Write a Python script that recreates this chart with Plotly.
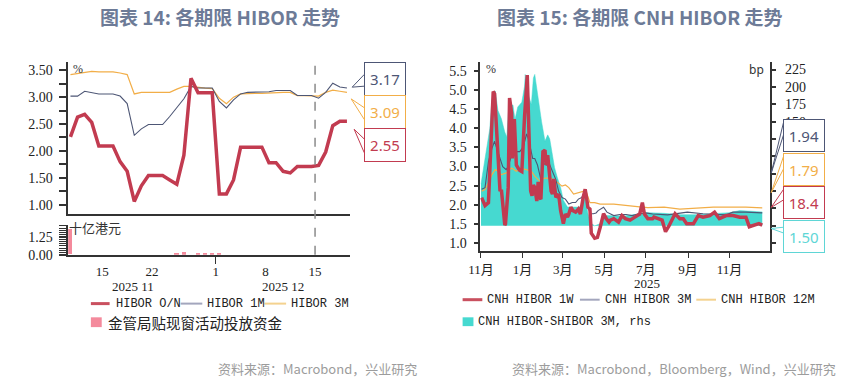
import plotly.graph_objects as go
import pandas as pd

W, H = 858, 388
def px(x): return x / W
def py(y): return 1 - y / H

# ---------------- Left chart data (HIBOR) ----------------
hk_dates = pd.date_range("2025-11-10 12:00", "2025-12-19 12:00", freq="D")
hibor_on = [2.26, 2.63, 2.68, 2.53, 2.09, 2.09, 2.09, 1.80, 1.62, 1.06, 1.35, 1.54, 1.54, 1.54,
            1.46, 1.38, 1.92, 3.35, 3.08, 3.08, 3.08,
            1.20, 1.20, 1.46, 2.07, 2.07, 2.07, 2.07, 1.78, 1.78, 1.62, 1.59, 1.71, 1.71, 1.71,
            1.73, 1.98, 2.47, 2.55, 2.55]
hibor_1m = [3.02, 3.02, 3.11, 3.09, 3.06, 3.06, 3.06, 3.02, 2.88, 2.29, 2.41, 2.49, 2.49, 2.49,
            2.64, 2.80, 2.97, 3.20, 3.17, 3.17, 3.17,
            2.92, 2.80, 2.95, 3.06, 3.09, 3.09, 3.09, 3.10, 3.125, 3.125, 3.125, 3.03, 3.03, 3.03,
            2.98, 3.09, 3.26, 3.19, 3.17]
hibor_3m = [3.42, 3.44, 3.46, 3.48, 3.47, 3.47, 3.47, 3.45, 3.42, 3.06, 3.09, 3.09, 3.09, 3.09,
            3.09, 3.15, 3.20, 3.20, 3.18, 3.17, 3.16,
            2.98, 2.88, 3.00, 3.06, 3.07, 3.07, 3.07, 3.08, 3.08, 3.09, 3.09, 3.03, 3.03, 3.03,
            3.02, 3.09, 3.13, 3.11, 3.09]
dw_dates = ["2025-11-10 12:00", "2025-11-25 12:00", "2025-11-26 12:00", "2025-11-28 12:00",
            "2025-11-29 12:00", "2025-11-30 12:00", "2025-12-01 12:00"]
dw_values = [1.78, 0.07, 0.14, 0.03, 0.03, 0.03, 0.03]
hk_tickvals = ["2025-11-15", "2025-11-22", "2025-12-01", "2025-12-08", "2025-12-15"]
hk_ticktext = ["15", "22", "1", "8", "15"]

# ---------------- Right chart data (CNH HIBOR) ----------------
cnh_1w_dates = ["2024-11-02", "2024-11-07", "2024-11-12", "2024-11-19", "2024-11-21", "2024-11-26",
    "2024-11-29", "2024-12-01", "2024-12-03", "2024-12-06", "2024-12-07", "2024-12-11", "2024-12-13",
    "2024-12-16", "2024-12-17", "2024-12-20", "2024-12-21", "2024-12-23", "2024-12-26", "2024-12-28",
    "2024-12-31", "2025-01-02", "2025-01-04", "2025-01-08", "2025-01-10", "2025-01-13", "2025-01-15",
    "2025-01-17", "2025-01-19", "2025-01-22", "2025-01-24", "2025-01-26", "2025-01-28", "2025-01-31",
    "2025-02-03", "2025-02-05", "2025-02-07", "2025-02-09", "2025-02-12", "2025-02-14", "2025-02-16",
    "2025-02-19", "2025-02-23", "2025-02-26", "2025-03-02", "2025-03-05", "2025-03-08", "2025-03-10",
    "2025-03-13", "2025-03-16", "2025-03-20", "2025-03-24", "2025-03-27", "2025-03-31", "2025-04-03",
    "2025-04-05", "2025-04-07", "2025-04-10", "2025-04-12", "2025-04-17", "2025-04-21", "2025-04-25",
    "2025-04-30", "2025-05-04", "2025-05-08", "2025-05-10", "2025-05-15", "2025-05-22", "2025-05-27",
    "2025-06-01", "2025-06-08", "2025-06-15", "2025-06-22", "2025-06-26", "2025-06-29", "2025-07-04",
    "2025-07-11", "2025-07-13", "2025-07-25", "2025-07-30", "2025-08-04", "2025-08-13", "2025-08-20",
    "2025-08-25", "2025-08-30", "2025-09-09", "2025-09-16", "2025-09-23", "2025-10-03", "2025-10-10",
    "2025-10-17", "2025-10-27", "2025-11-06", "2025-11-16", "2025-11-25", "2025-11-30", "2025-12-07",
    "2025-12-14", "2025-12-19"]
cnh_1w = [2.19, 1.98, 2.06, 4.96, 4.90, 3.39, 2.36, 2.40, 2.02, 1.47, 1.50, 2.45, 4.79, 4.40, 3.21,
    4.24, 3.70, 3.04, 2.95, 2.90, 2.87, 3.90, 4.30, 5.39, 4.24, 2.36, 2.24, 2.52, 2.45, 2.10, 2.60,
    2.19, 2.15, 3.39, 3.43, 3.04, 3.30, 2.95, 2.36, 2.28, 2.68, 2.20, 2.28, 1.85, 1.51, 1.76, 1.68,
    1.76, 1.94, 1.85, 1.81, 1.89, 1.76, 2.19, 2.41, 2.19, 1.94, 1.89, 1.26, 1.13, 1.15, 1.41, 1.77,
    1.64, 1.55, 1.60, 1.64, 1.55, 1.72, 1.64, 1.60, 1.68, 1.76, 2.06, 1.76, 1.64, 1.64, 1.68, 1.60,
    1.30, 1.45, 1.77, 1.64, 1.64, 1.51, 1.51, 1.72, 1.68, 1.72, 1.81, 1.64, 1.72, 1.72, 1.68, 1.68,
    1.43, 1.47, 1.51, 1.47]

cnh_3m_dates = ["2024-11-02", "2024-11-07", "2024-11-12", "2024-11-17", "2024-11-21", "2024-11-24",
    "2024-11-29", "2024-12-03", "2024-12-08", "2024-12-11", "2024-12-16", "2024-12-21", "2024-12-28",
    "2025-01-02", "2025-01-07", "2025-01-10", "2025-01-13", "2025-01-16", "2025-01-19", "2025-01-23",
    "2025-01-28", "2025-01-31", "2025-02-05", "2025-02-09", "2025-02-14", "2025-02-19", "2025-02-23",
    "2025-02-28", "2025-03-05", "2025-03-10", "2025-03-15", "2025-03-20", "2025-03-24", "2025-03-29",
    "2025-04-03", "2025-04-07", "2025-04-11", "2025-04-15", "2025-04-19", "2025-04-22", "2025-04-30",
    "2025-05-05", "2025-05-15", "2025-05-24", "2025-06-02", "2025-06-11", "2025-06-21", "2025-07-01",
    "2025-07-11", "2025-08-02", "2025-08-31", "2025-09-23", "2025-10-27", "2025-11-06", "2025-11-25",
    "2025-12-19"]
cnh_3m = [2.41, 2.45, 3.13, 3.47, 3.66, 3.47, 3.21, 3.00, 2.92, 3.00, 3.30, 3.39, 3.39, 3.51, 3.85,
    3.70, 3.47, 3.21, 3.21, 3.04, 2.66, 3.09, 3.04, 3.09, 2.87, 2.66, 2.36, 2.19, 2.15, 2.02, 2.06,
    2.06, 2.15, 2.19, 2.36, 1.94, 1.77, 1.77, 1.79, 1.85, 1.94, 1.81, 1.72, 1.75, 1.75, 1.72, 1.77,
    1.79, 1.76, 1.74, 1.81, 1.77, 1.74, 1.81, 1.81, 1.79]

cnh_12m_dates = ["2024-11-02", "2024-11-07", "2024-11-12", "2024-11-17", "2024-11-22", "2024-11-26",
    "2024-12-01", "2024-12-08", "2024-12-16", "2024-12-23", "2024-12-30", "2025-01-07", "2025-01-14",
    "2025-01-19", "2025-01-26", "2025-02-03", "2025-02-09", "2025-02-16", "2025-02-21", "2025-02-28",
    "2025-03-05", "2025-03-10", "2025-03-17", "2025-03-27", "2025-04-01", "2025-04-05", "2025-04-10",
    "2025-04-17", "2025-04-25", "2025-05-15", "2025-06-02", "2025-06-22", "2025-07-04", "2025-07-28",
    "2025-08-20", "2025-09-13", "2025-10-08", "2025-11-25", "2025-12-19"]
cnh_12m = [2.36, 2.40, 2.58, 2.79, 2.92, 2.88, 2.79, 2.83, 2.96, 2.88, 2.96, 2.92, 2.88, 2.75, 2.62,
    2.70, 2.70, 2.66, 2.58, 2.49, 2.52, 2.45, 2.28, 2.32, 2.36, 2.32, 2.06, 2.06, 2.02, 2.02, 1.98,
    1.95, 1.93, 1.94, 1.89, 1.91, 1.94, 1.94, 1.92]

spread_dates = ["2024-11-01", "2024-11-04", "2024-11-09", "2024-11-14", "2024-11-17", "2024-11-22",
    "2024-11-26", "2024-12-01", "2024-12-06", "2024-12-09", "2024-12-12", "2024-12-18", "2024-12-21",
    "2024-12-25", "2024-12-31", "2025-01-04", "2025-01-05", "2025-01-10", "2025-01-14", "2025-01-17",
    "2025-01-19", "2025-01-24", "2025-01-29", "2025-02-03", "2025-02-07", "2025-02-10", "2025-02-13",
    "2025-02-17", "2025-02-21", "2025-02-26", "2025-03-02", "2025-03-08", "2025-03-27", "2025-04-03",
    "2025-04-07", "2025-04-11", "2025-04-17", "2025-04-25", "2025-04-30", "2025-05-15", "2025-05-30",
    "2025-06-20", "2025-07-04", "2025-07-28", "2025-08-20", "2025-09-13", "2025-10-08", "2025-11-01",
    "2025-11-16", "2025-12-05", "2025-12-19"]
spread_bp = [60, 79, 107, 140, 180, 194, 166, 154, 135, 128, 173, 174, 153, 171, 178, 201, 218, 187,
    175, 213, 218, 180, 150, 122, 131, 125, 107, 84, 70, 55, 37, 27, 27, 41, 18, 4, 0, 3, 15, 15, 14,
    17, 19, 18, 16, 16, 18, 19, 22, 21, 20]

cnh_tickvals = ["2024-11-01", "2025-01-01", "2025-03-01", "2025-05-01", "2025-07-01",
                "2025-09-01", "2025-11-01"]
cnh_ticktext = ["11月", "1月", "3月", "5月", "7月", "9月", "11月"]
bp_labels = [150, 175, 200, 225]

# ---------------- Styles ----------------
RED = "#c23b50"
NAVY = "#4d5675"
ORANGE = "#f2ae48"
TEAL = "#46d9d0"
PINK = "#f48a9c"
AX = "#333333"
SERIF = "Liberation Serif"
MONO = "Liberation Mono"
CJK = "Noto Sans CJK SC"

fig = go.Figure()

# Left chart traces
fig.add_trace(go.Scatter(x=hk_dates, y=hibor_3m, mode="lines", line=dict(color=ORANGE, width=1.2),
                         xaxis="x", yaxis="y", showlegend=False))
fig.add_trace(go.Scatter(x=hk_dates, y=hibor_1m, mode="lines", line=dict(color=NAVY, width=1.1),
                         xaxis="x", yaxis="y", showlegend=False))
fig.add_trace(go.Scatter(x=hk_dates, y=hibor_on, mode="lines", line=dict(color=RED, width=3.5),
                         xaxis="x", yaxis="y", showlegend=False))
fig.add_trace(go.Bar(x=dw_dates, y=dw_values, marker=dict(color=PINK, line=dict(width=0)),
                     width=0.6 * 86400000, xaxis="x2", yaxis="y2", showlegend=False))

# Right chart traces
fig.add_trace(go.Scatter(x=spread_dates, y=spread_bp, mode="lines", fill="tozeroy",
                         fillcolor=TEAL, line=dict(color=TEAL, width=0.5),
                         xaxis="x3", yaxis="y3", showlegend=False))
fig.add_trace(go.Scatter(x=cnh_12m_dates, y=cnh_12m, mode="lines", line=dict(color=ORANGE, width=1.2),
                         xaxis="x3", yaxis="y4", showlegend=False))
fig.add_trace(go.Scatter(x=cnh_3m_dates, y=cnh_3m, mode="lines", line=dict(color=NAVY, width=1.1),
                         xaxis="x3", yaxis="y4", showlegend=False))
fig.add_trace(go.Scatter(x=cnh_1w_dates, y=cnh_1w, mode="lines", line=dict(color=RED, width=3.5),
                         xaxis="x3", yaxis="y4", showlegend=False))

tickfont = dict(family=SERIF, size=14, color="#222222")
xtickfont = dict(family=SERIF, size=13, color="#222222")
left_dom = [px(57), px(343)]
left_range = ["2025-11-10 04:20", "2025-12-19 23:00"]

fig.update_layout(
    width=W, height=H, margin=dict(l=0, r=0, t=0, b=0),
    paper_bgcolor="white", plot_bgcolor="white", bargap=0,
    xaxis=dict(domain=left_dom, anchor="y", type="date", range=left_range, showticklabels=False,
               showline=True, linecolor=AX, linewidth=1.5, ticks="", showgrid=False, zeroline=False),
    yaxis=dict(domain=[py(218), py(63)], anchor="x", range=[0.835, 3.66],
               tickvals=[1.0, 1.5, 2.0, 2.5, 3.0, 3.5],
               ticktext=["1.00", "1.50", "2.00", "2.50", "3.00", "3.50"],
               ticks="outside", ticklen=7, tickcolor=AX, tickwidth=1.5,
               minor=dict(dtick=0.25, tick0=0, ticks="outside", ticklen=7, tickcolor=AX, tickwidth=1.5),
               showline=True, linecolor=AX, linewidth=1.5, showgrid=False, zeroline=False,
               tickfont=tickfont, ticklabelstandoff=4),
    xaxis2=dict(domain=left_dom, anchor="y2", type="date", range=left_range,
                tickvals=hk_tickvals, ticktext=hk_ticktext, ticks="outside", ticklen=4,
                tickcolor="rgba(0,0,0,0)",
                minor=dict(dtick="M1", tick0="2025-11-01", ticks="outside", ticklen=8,
                           tickcolor=AX, tickwidth=1.2),
                showline=True, linecolor=AX, linewidth=1.5, showgrid=False, zeroline=False,
                tickfont=xtickfont),
    yaxis2=dict(domain=[py(260), py(230)], anchor="x2", range=[0, 2.08],
                tickvals=[0, 1.25], ticktext=["0.00", "1.25"],
                ticks="outside", ticklen=7, tickcolor=AX, tickwidth=1.5,
                minor=dict(dtick=0.15625, tick0=0, ticks="outside", ticklen=7, tickcolor=AX, tickwidth=1.2),
                showline=True, linecolor=AX, linewidth=1.5, showgrid=False, zeroline=False,
                tickfont=tickfont, ticklabelstandoff=4),
    xaxis3=dict(domain=[px(475), px(768.3)], anchor="y3", type="date",
                range=["2024-10-31 03:00", "2025-12-29 17:00"],
                tickvals=cnh_tickvals, ticktext=cnh_ticktext, ticks="outside", ticklen=5,
                tickcolor=AX, showline=True, linecolor=AX, linewidth=1.5, showgrid=False,
                zeroline=False, tickfont=dict(family=SERIF + ", " + CJK, size=13, color="#222222")),
    yaxis3=dict(domain=[py(256.7), py(63)], anchor="x3", side="right", range=[-36.8, 236.3],
                tickvals=bp_labels, ticktext=[str(v) for v in bp_labels],
                ticks="outside", ticklen=5, tickcolor=AX, tickwidth=1.5,
                minor=dict(dtick=25, tick0=0, ticks="outside", ticklen=5, tickcolor=AX, tickwidth=1.5),
                showline=True, linecolor=AX, linewidth=1.5, showgrid=False, zeroline=False,
                tickfont=tickfont, ticklabelstandoff=6),
    yaxis4=dict(overlaying="y3", anchor="x3", side="left", range=[0.785, 5.738],
                dtick=0.5, tick0=0, tickformat=".1f", ticks="outside", ticklen=5, tickcolor=AX,
                tickwidth=1.5, showline=True, linecolor=AX, linewidth=1.5, showgrid=False,
                zeroline=False, tickfont=tickfont, ticklabelstandoff=4),
)

ann = []
def text(x, y, s, font, xanchor="center", yanchor="middle"):
    ann.append(dict(x=px(x), y=py(y), xref="paper", yref="paper", text=s, showarrow=False,
                    xanchor=xanchor, yanchor=yanchor, font=font))

title_font = dict(family=CJK, size=19, color="#6d7b97", weight="bold")
text(211, 17, "图表 14: 各期限 HIBOR 走势", title_font)
text(636, 17, "图表 15: 各期限 CNH HIBOR 走势", title_font)
text(60, 70, "%", dict(family=SERIF, size=12, color="#333"), xanchor="left")
text(56, 232, "十亿港元", dict(family=CJK, size=13, color="#333"), xanchor="left")
text(123, 293, "2025 11", xtickfont)
text(275, 293, "2025 12", xtickfont)
text(479, 70, "%", dict(family=SERIF, size=12, color="#333"), xanchor="left")
text(755, 71, "bp", dict(family="Noto Sans", size=12, color="#333"))
text(644, 289, "2025", dict(family=SERIF, size=13, color="#222"))

src_font = dict(family=CJK, size=13, color="#9c9c9c")
text(413, 376, "资料来源：Macrobond，兴业研究", src_font, xanchor="right")
text(838, 376, "资料来源：Macrobond，Bloomberg，Wind，兴业研究", src_font, xanchor="right")

leg_font = dict(family=MONO, size=12, color="#222")
shapes = []
def leg_line(x0, x1, y, color, w):
    shapes.append(dict(type="line", xref="paper", yref="paper", x0=px(x0), x1=px(x1), y0=py(y), y1=py(y),
                       line=dict(color=color, width=w)))
def leg_box(x0, x1, y0, y1, color):
    shapes.append(dict(type="rect", xref="paper", yref="paper", x0=px(x0), x1=px(x1), y0=py(y1), y1=py(y0),
                       fillcolor=color, line=dict(width=0)))

# Left legend
leg_line(80, 99, 310, "#c9505f", 3)
text(103, 310, "HIBOR O/N", leg_font, xanchor="left")
leg_line(171, 193, 310, "#a3a6bd", 2)
text(196, 310, "HIBOR 1M", leg_font, xanchor="left")
leg_line(256, 278, 310, "#f4d28f", 2)
text(281, 310, "HIBOR 3M", leg_font, xanchor="left")
leg_box(80, 91, 324, 334, PINK)
text(95, 329, "金管局贴现窗活动投放资金", dict(family=CJK, size=14.5, color="#222"), xanchor="left")

# Right legend
leg_line(457, 477, 306, "#c9505f", 3)
text(480, 306, "CNH HIBOR 1W", leg_font, xanchor="left")
leg_line(576, 596, 306, "#a3a6bd", 2)
text(599, 306, "CNH HIBOR 3M", leg_font, xanchor="left")
leg_line(694, 714, 306, "#f4d28f", 2)
text(717, 306, "CNH HIBOR 12M", leg_font, xanchor="left")
leg_box(457, 468, 324, 333, TEAL)
text(471, 328.5, "CNH HIBOR-SHIBOR 3M, rhs", leg_font, xanchor="left")

# Vertical dashed marker on left chart
shapes.append(dict(type="line", xref="x", yref="paper", x0="2025-12-15", x1="2025-12-15",
                   y0=py(260), y1=py(63), line=dict(color="#8a8a8a", width=1.5, dash="dash")))

# Callouts
def callout(x0, y0, x1, y1, s, color, tip, b0, b1):
    shapes.append(dict(type="path", xref="paper", yref="paper", layer="above",
                       path=f"M {px(x0)},{py(b0)} L {px(tip[0])},{py(tip[1])} L {px(x0)},{py(b1)}",
                       line=dict(color=color, width=1), fillcolor="white"))
    ann.append(dict(x=px((x0 + x1) / 2), y=py((y0 + y1) / 2), xref="paper", yref="paper", text=s,
                    showarrow=False, xanchor="center", yanchor="middle",
                    width=x1 - x0 - 2, height=y1 - y0 - 2, borderpad=0, borderwidth=1,
                    bordercolor=color, bgcolor="white",
                    font=dict(family="Noto Sans", size=15, color=color)))

callout(357.3, 63.3, 399.3, 97.3, "3.17", NAVY, (345, 89), 76, 88)
callout(357.3, 97.3, 399.3, 131, "3.09", ORANGE, (344, 101), 110, 122)
callout(357.3, 131.3, 399.3, 165, "2.55", RED, (347, 132), 142, 156)

callout(782.7, 121.7, 824.3, 155, "1.94", NAVY, (770, 176.7), 124, 137)
callout(782.7, 156, 824.3, 189.3, "1.79", ORANGE, (770, 196.7), 159, 172)
callout(782.7, 190, 824.3, 223.3, "18.4", RED, (770, 211.7), 193, 204)
callout(782.7, 224.3, 824.3, 257.7, "1.50", "#5fd6d6", (770, 233.3), 232, 238)

fig.update_layout(annotations=ann, shapes=shapes)

fig.write_html("out.html", config={"displayModeBar": False},
               post_script="document.body.style.margin='0';document.documentElement.style.overflow='hidden';")
